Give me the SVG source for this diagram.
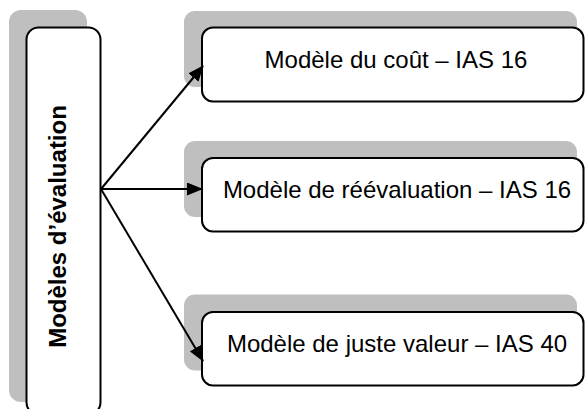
<svg xmlns="http://www.w3.org/2000/svg" width="585" height="409" viewBox="0 0 585 409">
<style>
.sh{fill:#bfbfbf;stroke:none}
.bx{fill:#ffffff;stroke:#000;stroke-width:2}
.lbl{font-family:"Liberation Sans",Arial,sans-serif;font-size:24px;fill:#000;text-anchor:middle}
.ttl{font-family:"Liberation Sans",Arial,sans-serif;font-size:24px;font-weight:bold;fill:#000;text-anchor:middle}
.cn{stroke:#000;stroke-width:2;fill:none;marker-end:url(#ah)}
</style>
<defs>
<marker id="ah" markerUnits="userSpaceOnUse" markerWidth="16" markerHeight="13" refX="15" refY="6.5" orient="auto">
<path d="M0,0 L16,6.5 L0,13 z" fill="#000"/>
</marker>
</defs>
<rect width="585" height="409" fill="#fff"/>
<g id="modeles">
<rect class="sh" x="9" y="10" width="78" height="392" rx="12"/>
<rect class="bx" x="26.5" y="27.5" width="74" height="387" rx="12"/>
<text class="ttl" transform="translate(66,226.5) rotate(-90)">Modèles d’évaluation</text>
</g>
<g id="cout">
<rect class="sh" x="184" y="11" width="393" height="76" rx="11"/>
<rect class="bx" x="202" y="27.5" width="381.5" height="74" rx="11"/>
<text class="lbl" x="396" y="67.5">Modèle du coût – IAS 16</text>
</g>
<g id="reevaluation">
<rect class="sh" x="184" y="141" width="393" height="76" rx="11"/>
<rect class="bx" x="202" y="158" width="381.5" height="73.5" rx="11"/>
<text class="lbl" x="397" y="197.5">Modèle de réévaluation – IAS 16</text>
</g>
<g id="juste-valeur">
<rect class="sh" x="184" y="294.5" width="393" height="76" rx="11"/>
<rect class="bx" x="202" y="312" width="381.5" height="73.5" rx="11"/>
<text class="lbl" x="397" y="351.5">Modèle de juste valeur – IAS 40</text>
</g>
<g id="connectors">
<line class="cn" x1="101" y1="189" x2="203" y2="66"/>
<line class="cn" x1="101" y1="189" x2="202" y2="189"/>
<line class="cn" x1="101" y1="189" x2="203" y2="361"/>
</g>
</svg>
